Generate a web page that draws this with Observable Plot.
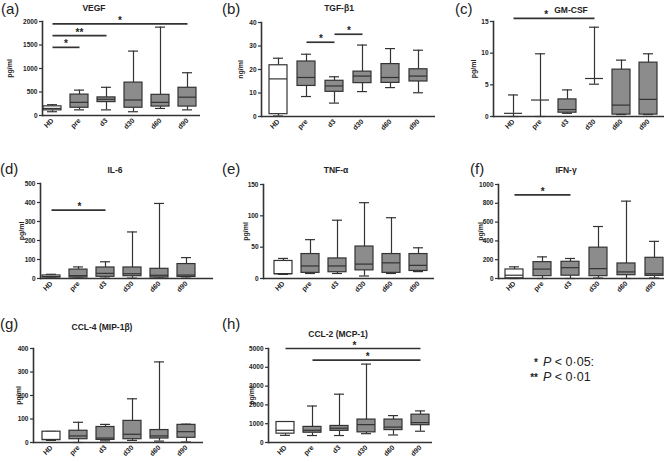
<!DOCTYPE html>
<html><head><meta charset="utf-8">
<script src="https://cdn.jsdelivr.net/npm/d3@7"></script>
<script src="https://cdn.jsdelivr.net/npm/@observablehq/plot@0.6"></script>
<style>
body{margin:0;background:#fff;}
#wrap{position:relative;width:666px;height:462px;font-family:"Liberation Sans",Arial,sans-serif;overflow:hidden;background:#fff}
.pl{position:absolute}
.lab{position:absolute;font-size:15px;line-height:1;color:#222}
.ttl{position:absolute;font-size:8.5px;font-weight:bold;transform:translate(-50%,-50%);white-space:nowrap;color:#222}
.leg{position:absolute;font-size:12.5px;color:#222;white-space:nowrap;line-height:1}
.leg b{display:inline-block;width:14px;text-align:right;margin-right:5px;font-size:10px}
</style></head><body><div id="wrap"></div>
<script>
const groups = ["HD","pre","d3","d30","d60","d90"];
// each row: [min, q1, median, q3, max]
const vegf = [[80,110,150,195,230],[120,165,280,445,540],[120,285,345,385,600],[80,165,330,700,1370],[150,190,280,440,1880],[120,190,390,590,910]];
const tgf = [[0.2,1.0,16.0,21.8,24.8],[8.5,13.0,16.6,23.4,26.5],[5.7,10.5,13.0,15.2,16.9],[10.6,14.2,17.2,19.1,30.4],[12.3,14.3,16.6,22.3,28.9],[10.1,14.9,17.2,20.1,28.2]];
const gmcsf = [[0,0.5,0.5,0.5,3.4],[0,2.6,2.6,2.6,9.9],[0.5,0.6,1.1,2.7,4.2],[5.1,6.0,6.0,6.0,14.1],[0.3,0.3,1.8,7.4,8.9],[0.3,0.3,2.7,8.5,9.9]];
const il6 = [[2,5,10,16,22],[2,5,15,47,61],[2,9,27,58,88],[2,12,25,58,245],[2,5,17,51,395],[2,8,18,76,110]];
const tnf = [[6.5,7,7.5,28,32],[8,9,20,39,62],[8,10,20,32,93],[4,13,23,51,121],[8,9,25,39,97],[11,12,21,39,49]];
const ifn = [[0,2,35,96,124],[0,25,100,174,230],[0,30,115,178,213],[5,25,105,328,553],[0,35,70,160,823],[5,28,50,220,395]];
const ccl4 = [[9,10,13,46,47],[0,14,28,50,86],[7,11,19,66,77],[9,14,35,92,186],[6,17,28,53,343],[2,20,46,75,78]];
const ccl2 = [[380,470,650,1090,1100],[370,520,650,830,1940],[370,620,760,880,2570],[470,540,950,1220,4170],[400,660,820,1220,1430],[600,920,1060,1480,1680]];

const vegfTicks = [0,500,1000,1500,2000];
const tgfTicks = [0,10,20,30,40];
const gmTicks = [0,5,10,15];
const il6Ticks = [0,100,200,300,400,500];
const tnfTicks = [0,50,100,150];
const ifnTicks = [0,200,400,600,800,1000];
const ccl4Ticks = [0,100,200,300,400];
const ccl2Ticks = [0,1000,2000,3000,4000,5000];

// significance bars: [from, to, level, stars]
const vegfSig = [["HD","pre",1450,"*"],["HD","d3",1700,"**"],["HD","d90",1950,"*"]];
const tgfSig = [["pre","d3",31.6,"*"],["d3","d30",35,"*"]];
const gmSig = [["HD","d30",15.5,"*"]];
const il6Sig = [["HD","d3",360,"*"]];
const ifnSig = [["HD","d3",890,"*"]];
const ccl2Sig = [["HD","d90",5000,"*"],["pre","d90",4380,"*"]];

const panels = [
 {tag:"(a)", title:"VEGF", unit:"pg/ml", stats:vegf, ticks:vegfTicks, sig:vegfSig, ymax:2000,
  L:0, T:0, W:222, H:150, m:[21,22,35,42], c0:52, step:27, udx:-33, lab:[1,1], tp:[94,8]},
 {tag:"(b)", title:"TGF-β1", unit:"ng/ml", stats:tgf, ticks:tgfTicks, sig:tgfSig, ymax:40,
  L:222, T:0, W:222, H:150, m:[22,9,34,39], c0:54, step:28.7, udx:-21, lab:[222,1], tp:[339,8]},
 {tag:"(c)", title:"GM-CSF", unit:"pg/ml", stats:gmcsf, ticks:gmTicks, sig:gmSig, ymax:15, nudge:-9,
  L:444, T:0, W:222, H:150, m:[21,2,34,49], c0:67, step:27.8, udx:-20, lab:[455,1], tp:[571,10]},
 {tag:"(d)", title:"IL-6", unit:"pg/ml", stats:il6, ticks:il6Ticks, sig:il6Sig, ymax:500,
  L:0, T:150, W:222, H:155, m:[33,9,27,40], c0:48, step:28, udx:-19, lab:[0,161], tp:[115,170]},
 {tag:"(e)", title:"TNF-α", unit:"pg/ml", stats:tnf, ticks:tnfTicks, sig:[], ymax:150,
  L:222, T:150, W:222, H:155, m:[34,10,27,41], c0:58, step:28, udx:-18, lab:[222,161], tp:[336,170]},
 {tag:"(f)", title:"IFN-γ", unit:"pg/ml", stats:ifn, ticks:ifnTicks, sig:ifnSig, ymax:1000,
  L:444, T:150, W:222, H:155, m:[34,2,27,54], c0:69, step:28.3, udx:-18, lab:[470,161], tp:[566,170]},
 {tag:"(g)", title:"CCL-4 (MIP-1β)", unit:"pg/ml", stats:ccl4, ticks:ccl4Ticks, sig:[], ymax:400,
  L:0, T:305, W:222, H:157, m:[43,19,20,33], c0:48, step:28, udx:-15, lab:[0,316], tp:[102,327]},
 {tag:"(h)", title:"CCL-2 (MCP-1)", unit:"pg/ml", stats:ccl2, ticks:ccl2Ticks, sig:ccl2Sig, ymax:5000,
  L:222, T:305, W:222, H:157, m:[43,12,20,46], c0:61, step:27.6, udx:-17, lab:[222,316], tp:[338,334]}
];

const gray = "#8c8c8c", ink = "#333333";
const wrap = document.getElementById("wrap");

function makePanel(p) {
  const rows = groups.map((g, i) => ({g, min:p.stats[i][0], q1:p.stats[i][1], med:p.stats[i][2], q3:p.stats[i][3], max:p.stats[i][4],
    fill: g === "HD" ? "white" : gray}));
  const sig = p.sig.map(([from, to, y, s]) => ({from, to, y, s}));
  const pad = 0.34;
  const r0 = p.c0 - p.step * (0.5 + pad / 2);
  const r1 = r0 + p.step * (groups.length + pad);
  const [mt, mr, mb, ml] = p.m;
  const cap = 4;
  const sw = 1.2;
  const chart = Plot.plot({
    width: p.W, height: p.H,
    marginTop: mt, marginRight: mr, marginBottom: mb, marginLeft: ml,
    style: {background: "transparent", overflow: "visible", fontFamily: "Liberation Sans, Arial, sans-serif", color: "#222"},
    x: {type: "band", domain: groups, range: [r0, r1], padding: pad, axis: null},
    y: {domain: [0, p.ymax], axis: null},
    color: {type: "identity"},
    marks: [
      Plot.ruleX(rows, {x: "g", y1: "min", y2: "q1", stroke: ink, strokeWidth: sw}),
      Plot.ruleX(rows, {x: "g", y1: "q3", y2: "max", stroke: ink, strokeWidth: sw}),
      Plot.tickY(rows, {x: "g", y: "max", stroke: ink, strokeWidth: sw, insetLeft: cap, insetRight: cap}),
      Plot.tickY(rows, {x: "g", y: "min", stroke: ink, strokeWidth: sw, insetLeft: cap, insetRight: cap}),
      Plot.barY(rows, {x: "g", y1: "q1", y2: "q3", fill: "fill", stroke: ink, strokeWidth: sw}),
      Plot.tickY(rows, {x: "g", y: "med", stroke: ink, strokeWidth: sw}),
      Plot.axisY({ticks: p.ticks, tickSize: 3, tickPadding: 2, fontSize: 6.5, fontWeight: "bold", label: null,
        tickFormat: d => String(d), stroke: ink, strokeWidth: 1.2}),
      Plot.axisX({tickSize: 0, tickPadding: 4, tickRotate: -45, fontSize: 7, fontWeight: "bold", label: null}),
      Plot.ruleY([0], {stroke: ink, strokeWidth: 1.6}),
      Plot.frame({anchor: "left", stroke: ink, strokeWidth: 1.6}),
      Plot.text([p.unit], {frameAnchor: "left", rotate: -90, dx: p.udx, textAnchor: "middle", fontSize: 7, fontWeight: "bold"}),
      Plot.link(sig, {x1: "from", x2: "to", y1: "y", y2: "y", stroke: "#333", strokeWidth: 1.7, clip: false}),
      ...sig.map(s => Plot.text([s], {x: "from", y: "y", text: "s", lineAnchor: "bottom", dy: 0,
        dx: (groups.indexOf(s.to) - groups.indexOf(s.from)) / 2 * p.step + (p.nudge || 0),
        fontSize: 10, fontWeight: "bold", fill: "#222"}))
    ]
  });
  chart.classList.add("pl");
  chart.style.left = p.L + "px";
  chart.style.top = p.T + "px";
  wrap.appendChild(chart);

  const lab = document.createElement("div");
  lab.className = "lab"; lab.textContent = p.tag;
  lab.style.left = p.lab[0] + "px"; lab.style.top = p.lab[1] + "px";
  wrap.appendChild(lab);
  const t = document.createElement("div");
  t.className = "ttl"; t.textContent = p.title;
  t.style.left = p.tp[0] + "px"; t.style.top = p.tp[1] + "px";
  wrap.appendChild(t);
}
panels.forEach(makePanel);

const legendRows = [["*", "0·05:"], ["**", "0·01"]];
legendRows.forEach(([s, v], i) => {
  const d = document.createElement("div");
  d.className = "leg";
  d.style.left = "524px"; d.style.top = (356 + i * 15) + "px";
  d.innerHTML = `<b>${s}</b><i>P</i> &lt; ${v}`;
  wrap.appendChild(d);
});
</script></body></html>
